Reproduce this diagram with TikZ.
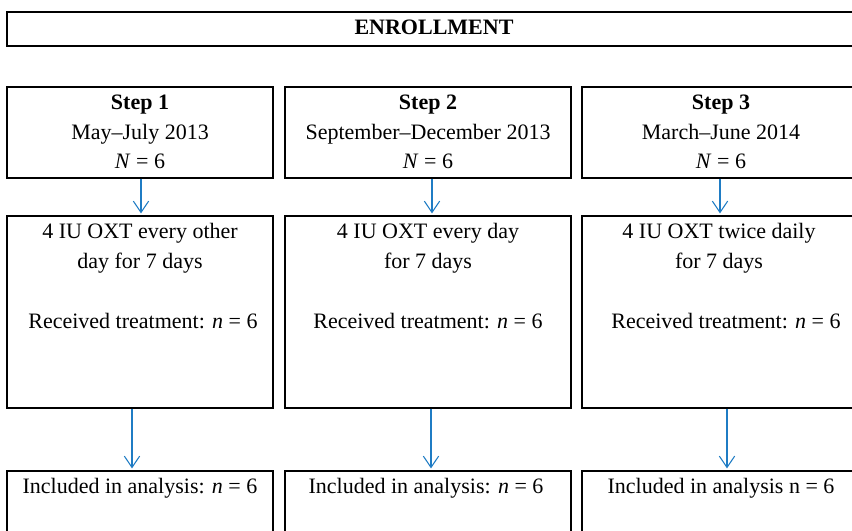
\documentclass[tikz,border=0pt]{standalone}
\usepackage{fontspec}
\setmainfont{Liberation Serif}
\usetikzlibrary{arrows.meta,fit}
\definecolor{flowblue}{RGB}{31,124,196}
\tikzset{
  box/.style={draw,line width=0.9pt,inner sep=0pt},
  txt/.style={align=center,font=\fontsize{16.5}{22.2}\selectfont},
  flow/.style={draw=flowblue,line width=0.8pt,shorten >=1.5pt,
    -{Straight Barb[length=8.5pt,width=11.5pt,line width=0.8pt]}}
}
\begin{document}
\begin{tikzpicture}[x=0.75pt,y=-0.75pt]
\useasboundingbox (0,0) rectangle (852,531);
\clip (0,0) rectangle (852,531);
% enrollment
\node[box,fit={(7,12) (870,46)}] (enr) {};
\node[txt] (enrtxt) at (434,27) {\textbf{ENROLLMENT}};
% steps
\node[box,fit={(7,87) (273,178)}] (s1) {};
\node[box,fit={(285,87) (571,178)}] (s2) {};
\node[box,fit={(582,87) (860,178)}] (s3) {};
\node[txt] (s1txt) at (140,132) {\textbf{Step 1}\\May--July 2013\\\textit{N} = 6};
\node[txt] (s2txt) at (428,132) {\textbf{Step 2}\\September--December 2013\\\textit{N} = 6};
\node[txt] (s3txt) at (721,132) {\textbf{Step 3}\\March--June 2014\\\textit{N} = 6};
% treatment
\node[box,fit={(7,216) (273,408)}] (t1) {};
\node[box,fit={(285,216) (571,408)}] (t2) {};
\node[box,fit={(582,216) (860,408)}] (t3) {};
\node[txt] (t1txt) at (140,248) {4 IU OXT every other\\day for 7 days};
\node[txt] (t2txt) at (428,248) {4 IU OXT every day\\for 7 days};
\node[txt] (t3txt) at (719,248) {4 IU OXT twice daily\\for 7 days};
\node[txt] (t1rec) at (143,321) {Received treatment: \textit{n} = 6};
\node[txt] (t2rec) at (428,321) {Received treatment: \textit{n} = 6};
\node[txt] (t3rec) at (726,321) {Received treatment: \textit{n} = 6};
% analysis
\node[box,fit={(7,471) (273,560)}] (a1) {};
\node[box,fit={(285,471) (571,560)}] (a2) {};
\node[box,fit={(582,471) (860,560)}] (a3) {};
\node[txt] (a1txt) at (140,488) {Included in analysis: \textit{n} = 6};
\node[txt] (a2txt) at (426,488) {Included in analysis: \textit{n} = 6};
\node[txt] (a3txt) at (721,488) {Included in analysis n = 6};
% arrows
\draw[flow] ([xshift=0.75pt]s1.south) -- ([xshift=0.75pt]t1.north);
\draw[flow] ([xshift=3pt]s2.south) -- ([xshift=3pt]t2.north);
\draw[flow] ([xshift=-0.75pt]s3.south) -- ([xshift=-0.75pt]t3.north);
\draw[flow] ([xshift=-6pt]t1.south) -- ([xshift=-6pt]a1.north);
\draw[flow] ([xshift=2.25pt]t2.south) -- ([xshift=2.25pt]a2.north);
\draw[flow] ([xshift=4.5pt]t3.south) -- ([xshift=4.5pt]a3.north);
\end{tikzpicture}
\end{document}
